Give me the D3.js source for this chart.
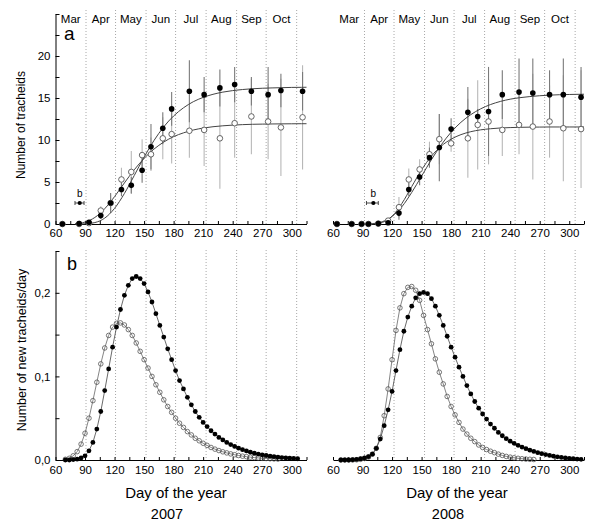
<!DOCTYPE html>
<html><head><meta charset="utf-8">
<script src="https://cdn.jsdelivr.net/npm/d3@7"></script>
<style>
body{margin:0;background:#fff}
svg{display:block}
text{font-family:"Liberation Sans",Arial,Helvetica,sans-serif;fill:#000}
</style>
</head><body>
<svg id="c" width="600" height="530"></svg>
<script>
// ---------- data ----------
const months = ["Mar","Apr","May","Jun","Jul","Aug","Sep","Oct"];
const monthStarts2007 = [60,91,121,152,182,213,244,274,305];
const monthStarts2008 = [61,92,122,153,183,214,245,275,306];
const xTicks = [60,75,90,105,120,135,150,165,180,195,210,225,240,255,270,285,300,315];
const xTickLabels = [60,90,120,150,180,210,240,270,300];
const yTopTicks = [0,2.5,5,7.5,10,12.5,15,17.5,20,22.5,25];
const yTopLabels = [0,5,10,15,20];
const yBotTicks = [0,0.05,0.1,0.15,0.2,0.25];
const yBotLabels = ["0,0","0,1","0,2"];
const yBotLabelValues = [0,0.1,0.2];

// panel a, 2007 measurements
const days07 = [67,84,94,106,116,127,137,148,157,169,178,196,211,227,242,259,276,289,311];
const fill07 = [0,0.05,0.2,1.0,2.5,4.1,4.6,6.4,9.2,11.4,13.7,15.8,15.4,16.2,16.6,15.8,15.4,15.9,15.8];
const fillSd07 = [0,0,0.1,0.4,1.2,0.8,1.0,1.5,2.7,1.9,2.0,3.7,2.1,2.2,2.1,1.7,3.3,2.0,2.3];
const open07 = [0,0,0.1,1.6,2.5,5.3,6.2,8.2,8.3,10.2,10.7,11.1,11.2,10.2,12.0,12.8,12.2,11.5,12.7];
const openSd07 = [0,0,0.1,0.5,1.0,1.4,2.5,1.9,2.0,2.5,3.5,3.2,4.3,6.0,4.1,4.5,4.5,5.8,6.2];
// panel a, 2008 measurements
const days08 = [64,79,89,96,106,116,127,137,148,158,168,180,197,207,218,232,249,263,280,294,312];
const fill08 = [0,0,0,0,0.05,0.15,1.3,4.1,5.6,7.9,9.1,11.3,13.3,12.8,13.4,15.4,15.7,15.6,15.4,15.4,15.1];
const fillSd08 = [0,0,0,0,0,0.2,0.8,0.8,1.0,1.2,4.0,1.3,3.0,0.9,5.3,2.9,4.0,4.1,2.9,4.3,3.6];
const open08 = [0,0,0,0,0.05,0.4,2.0,5.3,6.5,8.3,10.1,9.6,10.2,11.8,12.2,11.2,11.8,11.6,12.2,11.4,11.3];
const openSd08 = [0,0,0,0,0,0.3,1.2,1.3,1.2,1.5,3.0,1.0,4.7,5.3,5.1,3.1,3.5,6.3,4.3,6.3,7.0];

// fitted curves
const cDays07 = [80,90,100,110,120,130,140,150,160,170,180,190,200,210,220,230,240,250,260,270,280,290,300,310,315];
const cFill07 = [0.001,0.023,0.17,0.70,1.86,3.63,5.77,7.96,9.93,11.57,12.86,13.83,14.56,15.07,15.44,15.70,15.88,16.01,16.10,16.16,16.20,16.23,16.26,16.27,16.28];
const cOpen07 = [0.038,0.23,0.78,1.82,3.26,4.89,6.45,7.81,8.91,9.76,10.40,10.85,11.19,11.42,11.58,11.69,11.77,11.83,11.87,11.89,11.91,11.92,11.93,11.94,11.94];
const cDays08 = [90,100,110,120,130,140,150,160,170,180,190,200,210,220,230,240,250,260,270,280,290,300,310,315];
const cFill08 = [0.003,0.05,0.27,0.90,2.06,3.76,5.70,7.66,9.43,10.93,12.11,13.02,13.71,14.22,14.59,14.86,15.04,15.17,15.27,15.34,15.39,15.42,15.44,15.45];
const cOpen08 = [0.0002,0.014,0.19,0.92,2.45,4.46,6.45,8.08,9.28,10.10,10.64,10.99,11.21,11.34,11.43,11.48,11.51,11.53,11.54,11.55,11.55,11.55,11.55,11.55];

// "b" onset markers (mean day and range)
const onset07 = {day:84.6, lo:79.8, hi:89, value:2.5};
const onset08 = {day:101, lo:94, hi:106, value:2.5};

// panel b, daily rates
const bDays07 = [70,74,78,82,86,90,94,98,102,106,110,114,118,122,126,130,134,138,142,146,150,154,158,162,166,170,174,178,182,186,190,194,198,202,206,210,214,218,222,226,230,234,238,242,246,250,254,258,262,266,270,274,278,282,286,290,294,298,302,306];
const rateFill07 = [0,0,0.0005,0.001,0.0025,0.005,0.011,0.021,0.037,0.058,
 0.083,0.109,0.135,0.159,0.180,0.197,0.209,0.217,0.2195,0.217,
 0.211,0.201,0.189,0.175,0.161,0.147,0.133,0.120,0.107,0.095,
 0.085,0.075,0.066,0.058,0.051,0.045,0.040,0.035,0.031,0.027,
 0.024,0.021,0.0185,0.0162,0.0142,0.0124,0.0108,0.0094,0.0082,0.0071,
 0.0062,0.0054,0.0046,0.0040,0.0034,0.0029,0.0025,0.0021,0.0018,0.0015];
const rateOpen07 = [0.0008,0.002,0.005,0.010,0.019,0.032,0.050,0.071,0.093,0.115,
 0.134,0.149,0.159,0.1635,0.164,0.1615,0.156,0.149,0.140,0.130,
 0.120,0.110,0.100,0.090,0.081,0.072,0.064,0.057,0.050,0.044,
 0.039,0.034,0.030,0.026,0.023,0.020,0.0175,0.015,0.013,0.0113,
 0.0098,0.0085,0.0073,0.0063,0.0054,0.0046,0.0040,0.0034,0.0029,0.0025,
 0.0021,0.0018,0.0015,0.0013,0.0011];
const bDays08 = [68,72,76,80,84,88,92,96,100,104,108,112,116,120,124,128,132,136,140,144,148,152,156,160,164,168,172,176,180,184,188,192,196,200,204,208,212,216,220,224,228,232,236,240,244,248,252,256,260,264,268,272,276,280,284,288,292,296,300,304,308,312];
const rateFill08 = [0,0,0,0.0003,0.0007,0.0015,0.0025,0.004,0.007,0.014,
 0.025,0.041,0.060,0.082,0.107,0.132,0.154,0.171,0.184,0.194,
 0.199,0.2005,0.199,0.193,0.184,0.173,0.161,0.148,0.135,0.123,
 0.111,0.100,0.089,0.079,0.070,0.062,0.055,0.049,0.043,0.038,
 0.033,0.029,0.0255,0.0225,0.020,0.0175,0.0155,0.0135,0.0118,0.0102,
 0.0088,0.0076,0.0065,0.0055,0.0046,0.0038,0.0031,0.0025,0.0020,0.0015,
 0.0011,0.0008];
const rateOpen08 = [0,0,0,0.0001,0.0003,0.0008,0.0018,0.0035,0.007,0.014,
 0.027,0.053,0.085,0.120,0.155,0.182,0.199,0.2065,0.2075,0.203,
 0.191,0.173,0.156,0.139,0.121,0.105,0.091,0.076,0.064,0.054,
 0.045,0.037,0.031,0.026,0.022,0.018,0.015,0.0125,0.0105,0.0088,
 0.007,0.0055,0.0043,0.0034,0.0026,0.002,0.0015,0.0011,0.0008,0.0006];

// ---------- drawing ----------
const svg = d3.select("#c");
const yTop = d3.scaleLinear().domain([0,25]).range([224,14]);
const yBot = d3.scaleLinear().domain([0,0.25]).range([460,251]);

const panels = [
  {year:"2007", xr:[55.5,306.5], ms:monthStarts2007, yAxis:true,
   days:days07, fill:fill07, fillSd:fillSd07, open:open07, openSd:openSd07,
   cDays:cDays07, cFill:cFill07, cOpen:cOpen07, onset:onset07,
   bDays:bDays07, rFill:rateFill07, rOpen:rateOpen07, titleX:176, yearX:167},
  {year:"2008", xr:[333,584], ms:monthStarts2008, yAxis:false,
   days:days08, fill:fill08, fillSd:fillSd08, open:open08, openSd:openSd08,
   cDays:cDays08, cFill:cFill08, cOpen:cOpen08, onset:onset08,
   bDays:bDays08, rFill:rateFill08, rOpen:rateOpen08, titleX:457, yearX:448}
];

panels.forEach(p => {
  const x = d3.scaleLinear().domain([60,315]).range(p.xr);
  const g = svg.append("g");

  // dotted month lines
  const gridDays = p.ms.slice(1);
  g.selectAll(null).data(gridDays).enter().append("line")
    .attr("x1", d => x(d)).attr("x2", d => x(d))
    .attr("y1", 10).attr("y2", yTop(0))
    .attr("stroke", "#a8a8a8").attr("stroke-width", 1).attr("stroke-dasharray", "1,2");
  g.selectAll(null).data(gridDays).enter().append("line")
    .attr("x1", d => x(d)).attr("x2", d => x(d))
    .attr("y1", 250).attr("y2", yBot(0))
    .attr("stroke", "#a8a8a8").attr("stroke-width", 1).attr("stroke-dasharray", "1,2");

  // month labels
  g.selectAll(null).data(months).enter().append("text")
    .attr("x", (d,i) => x((p.ms[i] + p.ms[i+1]) / 2))
    .attr("y", 22.5).attr("text-anchor", "middle").attr("font-size", 11.5)
    .text(d => d);

  // x axes
  [[yTop,224,5],[yBot,460,6]].forEach(([ys, y0, pad]) => {
    const ax = d3.axisBottom(x).tickValues(xTicks).tickSize(-3).tickSizeOuter(0).tickPadding(pad)
      .tickFormat(d => xTickLabels.includes(d) ? d : "");
    const ag = svg.append("g").attr("transform", `translate(0,${y0})`).call(ax);
    ag.selectAll("text").attr("font-size", 11.5).attr("font-family", "Liberation Sans, Arial, sans-serif");
    ag.select(".domain").attr("stroke", "#000");
  });

  // y axes (left panels only)
  if (p.yAxis) {
    const axT = d3.axisLeft(yTop).tickValues(yTopTicks).tickSize(-4).tickSizeOuter(0).tickPadding(5)
      .tickFormat(d => yTopLabels.includes(d) ? d : "");
    const agT = svg.append("g").attr("transform", `translate(${p.xr[0]},0)`).call(axT);
    agT.selectAll("text").attr("font-size", 11.5).attr("font-family", "Liberation Sans, Arial, sans-serif");
    const axB = d3.axisLeft(yBot).tickValues(yBotTicks).tickSize(-4).tickSizeOuter(0).tickPadding(5)
      .tickFormat(d => { const k = yBotLabelValues.findIndex(v => Math.abs(v - d) < 1e-9); return k >= 0 ? yBotLabels[k] : ""; });
    const agB = svg.append("g").attr("transform", `translate(${p.xr[0]},0)`).call(axB);
    agB.selectAll("text").attr("font-size", 11.5).attr("font-family", "Liberation Sans, Arial, sans-serif");
  }

  // ----- panel a -----
  const ga = svg.append("g");
  const errBars = (vals, sds, color) => {
    ga.selectAll(null).data(p.days.map((d,i) => ({d, v: vals[i], s: sds[i]})).filter(o => o.s > 0))
      .enter().append("line")
      .attr("x1", o => x(o.d)).attr("x2", o => x(o.d))
      .attr("y1", o => yTop(o.v - o.s)).attr("y2", o => yTop(o.v + o.s))
      .attr("stroke", color).attr("stroke-width", 1.1);
  };
  errBars(p.open, p.openSd, "#b8b8b8");
  errBars(p.fill, p.fillSd, "#7a7a7a");

  const curve = d3.line().x(d => x(d[0])).y(d => yTop(d[1])).curve(d3.curveMonotoneX);
  ga.append("path").datum(p.cDays.map((d,i) => [d, p.cOpen[i]]))
    .attr("d", curve).attr("fill", "none").attr("stroke", "#444").attr("stroke-width", 1);
  ga.append("path").datum(p.cDays.map((d,i) => [d, p.cFill[i]]))
    .attr("d", curve).attr("fill", "none").attr("stroke", "#444").attr("stroke-width", 1);

  ga.selectAll(null).data(p.days.map((d,i) => [d, p.open[i]])).enter().append("circle")
    .attr("cx", d => x(d[0])).attr("cy", d => yTop(d[1])).attr("r", 2.8)
    .attr("fill", "#fff").attr("stroke", "#555").attr("stroke-width", 0.9);
  ga.selectAll(null).data(p.days.map((d,i) => [d, p.fill[i]])).enter().append("circle")
    .attr("cx", d => x(d[0])).attr("cy", d => yTop(d[1])).attr("r", 2.8)
    .attr("fill", "#000");

  // onset marker "b"
  const o = p.onset, oy = yTop(o.value);
  ga.append("line").attr("x1", x(o.lo)).attr("x2", x(o.hi)).attr("y1", oy).attr("y2", oy)
    .attr("stroke", "#333").attr("stroke-width", 0.9);
  [o.lo, o.hi].forEach(v => ga.append("line").attr("x1", x(v)).attr("x2", x(v))
    .attr("y1", oy - 2).attr("y2", oy + 2).attr("stroke", "#333").attr("stroke-width", 0.9));
  ga.append("circle").attr("cx", x(o.day)).attr("cy", oy).attr("r", 2.1).attr("fill", "#000");
  ga.append("text").attr("x", x(o.day)).attr("y", oy - 6).attr("text-anchor", "middle")
    .attr("font-size", 10).text("b");

  // ----- panel b -----
  const gb = svg.append("g");
  const rline = d3.line().x(d => x(d[0])).y(d => yBot(d[1]));
  const openPts = p.rOpen.map((v,i) => [p.bDays[i], v]);
  const fillPts = p.rFill.map((v,i) => [p.bDays[i], v]);
  gb.append("path").datum(openPts).attr("d", rline).attr("fill", "none")
    .attr("stroke", "#666").attr("stroke-width", 0.8);
  gb.append("path").datum(fillPts).attr("d", rline).attr("fill", "none")
    .attr("stroke", "#444").attr("stroke-width", 0.8);
  gb.selectAll(null).data(openPts).enter().append("circle")
    .attr("cx", d => x(d[0])).attr("cy", d => yBot(d[1])).attr("r", 2.3)
    .attr("fill", "none").attr("stroke", "#555").attr("stroke-width", 0.8);
  gb.selectAll(null).data(fillPts).enter().append("circle")
    .attr("cx", d => x(d[0])).attr("cy", d => yBot(d[1])).attr("r", 2.4)
    .attr("fill", "#000");

  // titles
  svg.append("text").attr("x", p.titleX).attr("y", 498).attr("text-anchor", "middle")
    .attr("font-size", 15).text("Day of the year");
  svg.append("text").attr("x", p.yearX).attr("y", 519).attr("text-anchor", "middle")
    .attr("font-size", 14.5).text(p.year);
});

// panel letters
svg.append("text").attr("x", 64).attr("y", 40).attr("font-size", 19).text("a");
svg.append("text").attr("x", 67).attr("y", 269.5).attr("font-size", 18).text("b");

// y titles
svg.append("text").attr("transform", "translate(25,125) rotate(-90)")
  .attr("text-anchor", "middle").attr("font-size", 12).text("Number of tracheids");
svg.append("text").attr("transform", "translate(26,350) rotate(-90)")
  .attr("text-anchor", "middle").attr("font-size", 12.5).text("Number of new tracheids/day");
</script>
</body></html>
